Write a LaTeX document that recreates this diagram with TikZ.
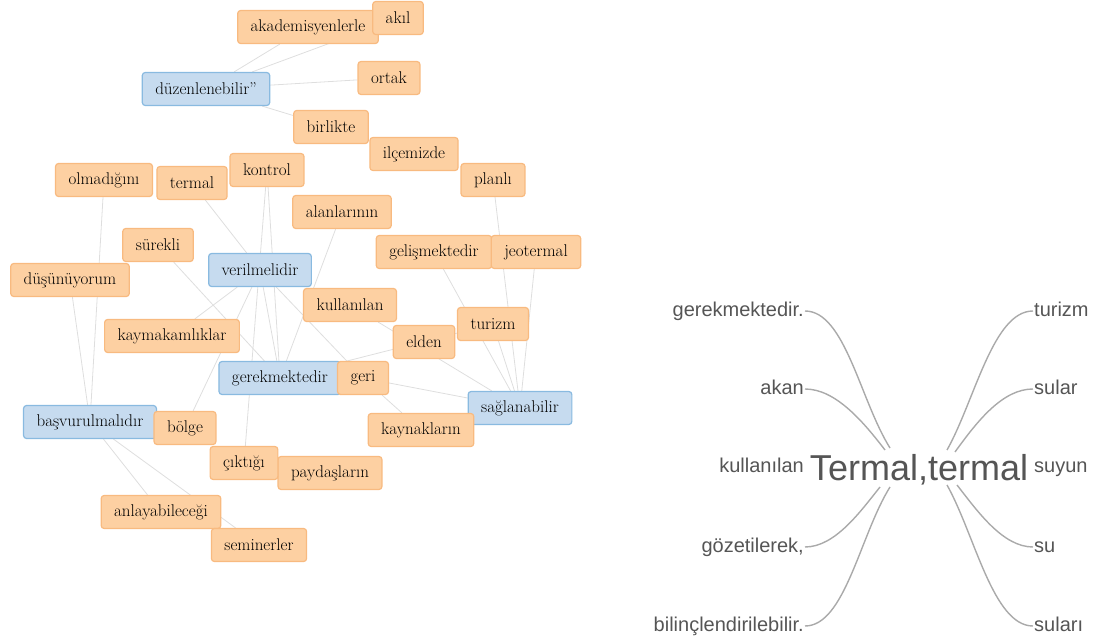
\documentclass[tikz,border=0pt]{standalone}
\usepackage{fontspec}
\newfontfamily\treefont{Liberation Sans}
\usetikzlibrary{backgrounds}
\definecolor{wordfill}{RGB}{253,208,162}
\definecolor{worddraw}{RGB}{248,186,128}
\definecolor{hubfill}{RGB}{198,219,239}
\definecolor{hubdraw}{RGB}{137,186,224}
\definecolor{linkgray}{RGB}{222,222,222}
\definecolor{treegray}{RGB}{85,85,85}
\definecolor{branchgray}{RGB}{170,170,170}

\begin{document}
\begin{tikzpicture}[x=1pt,y=-1pt]
\tikzset{word/.style = {rectangle, rounded corners=3pt, draw=worddraw, fill=wordfill, line width=1.2pt, minimum height=33pt, inner xsep=13pt, font=\fontsize{17}{19}\selectfont}}
\tikzset{hub/.style = {word, draw=hubdraw, fill=hubfill}}
\tikzset{link/.style = {draw=linkgray, line width=.8pt}}
\tikzset{leaf/.style = {font=\treefont\fontsize{20}{22}\selectfont, text=treegray, inner xsep=1pt, inner ysep=0pt, text height=10.5pt, text depth=0pt}}
\tikzset{branch/.style = {draw=branchgray, line width=1.4pt}}

\useasboundingbox (0,0) rectangle (1095,644);

% network of words
\node[word] (akad) at (308,27) {akademisyenlerle};
\node[word] (akil) at (398,18) {akıl};
\node[hub] (duzen) at (206,89) {düzenlenebilir”};
\node[word] (ortak) at (389,78) {ortak};
\node[word] (birlikte) at (331,127) {birlikte};
\node[word] (ilcem) at (414,154) {ilçemizde};
\node[word] (planli) at (493,180) {planlı};
\node[word] (olmad) at (104,180) {olmadığını};
\node[word] (termal) at (192,183) {termal};
\node[word] (kontrol) at (267,170) {kontrol};
\node[word] (alan) at (342,212) {alanlarının};
\node[word] (surekli) at (158,245) {sürekli};
\node[hub] (veril) at (260,270) {verilmelidir};
\node[word] (gelis) at (434,252) {gelişmektedir};
\node[word] (jeot) at (536,252) {jeotermal};
\node[word] (dusun) at (70,280) {düşünüyorum};
\node[word] (kullan) at (350,305) {kullanılan};
\node[word] (kaymak) at (172,336) {kaymakamlıklar};
\node[word] (turizm) at (493,324) {turizm};
\node[word] (elden) at (424,342) {elden};
\node[hub] (gerek) at (280,378) {gerekmektedir};
\node[word] (geri) at (363,378) {geri};
\node[hub] (sagla) at (520,408) {sağlanabilir};
\node[hub] (basvur) at (90,422) {başvurulmalıdır};
\node[word] (bolge) at (185,428) {bölge};
\node[word] (kaynak) at (421,430) {kaynakların};
\node[word] (payda) at (330,473) {paydaşların};
\node[word] (cikt) at (244,463) {çıktığı};
\node[word] (anlay) at (161,512) {anlayabileceği};
\node[word] (semin) at (259,545) {seminerler};

\begin{pgfonlayer}{background}
\foreach \a/\b in {duzen/akad, duzen/akil, duzen/ortak, duzen/birlikte,
    olmad/basvur, dusun/basvur, basvur/anlay, basvur/semin,
    termal/veril, kaymak/veril, bolge/veril, veril/gerek, veril/geri,
    kontrol/cikt, kontrol/gerek, alan/gerek, surekli/gerek, gerek/turizm,
    kullan/sagla, geri/sagla, turizm/sagla, jeot/sagla, planli/sagla,
    gelis/sagla, geri/kaynak}
   {\draw[link] (\a) -- (\b);}
\end{pgfonlayer}

% word tree
\node[font=\treefont\fontsize{36}{40}\selectfont, text=treegray, inner sep=0pt, anchor=base] (root) at (919,480) {Termal,termal};

\foreach \w/\n/\y in {gerekmektedir./lw1/311, akan/lw2/389, kullanılan/lw3/467, {gözetilerek,}/lw4/547, bilinçlendirilebilir./lw5/626}
   {\node[leaf, anchor=east] (\n) at (805,\y) {\w};}
\foreach \w/\n/\y in {turizm/rw1/311, sular/rw2/389, suyun/rw3/467, su/rw4/547, suları/rw5/626}
   {\node[leaf, anchor=west] (\n) at (1033,\y) {\w};}

\coordinate (ul1) at (890,448);
\coordinate (ul2) at (885,450);
\coordinate (dl1) at (880,487);
\coordinate (dl2) at (890,487);
\coordinate (ur1) at (947,450);
\coordinate (ur2) at (955,452);
\coordinate (dr1) at (957,485);
\coordinate (dr2) at (947,485);

\draw[branch] (lw1.east) .. controls +(40,0) and +(-30,-48) .. (ul1);
\draw[branch] (lw2.east) .. controls +(30,0) and +(-23,-30) .. (ul2);
\draw[branch] (lw4.east) .. controls +(30,0) and +(-20,25) .. (dl1);
\draw[branch] (lw5.east) .. controls +(40,0) and +(-30,48) .. (dl2);
\draw[branch] (rw1.west) .. controls +(-40,0) and +(28,-50) .. (ur1);
\draw[branch] (rw2.west) .. controls +(-30,0) and +(23,-32) .. (ur2);
\draw[branch] (rw4.west) .. controls +(-30,0) and +(21,27) .. (dr1);
\draw[branch] (rw5.west) .. controls +(-40,0) and +(28,50) .. (dr2);

\end{tikzpicture}
\end{document}
